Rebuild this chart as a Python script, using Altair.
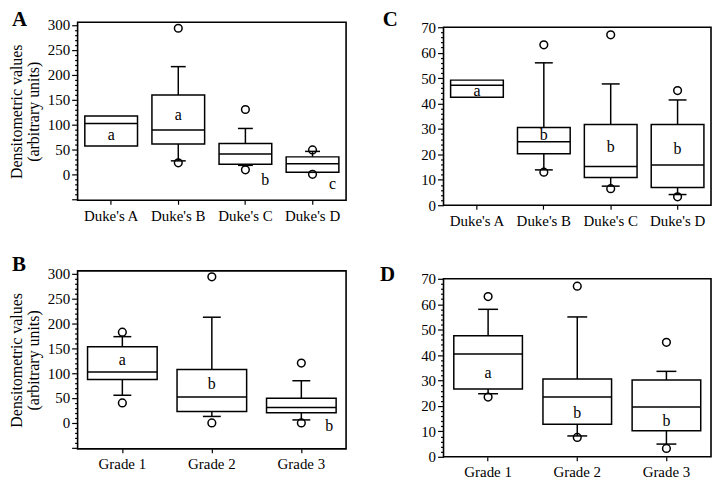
import altair as alt
import pandas as pd

# ---------------- data ----------------
duke_cats = ["Duke's A", "Duke's B", "Duke's C", "Duke's D"]
grade_cats = ["Grade 1", "Grade 2", "Grade 3"]

# Panel A (densitometric values by Duke's stage)
a_q1 = [57, 61, 20, 4]
a_med = [102, 89, 41, 21]
a_q3 = [117, 159, 62, 35]
a_lo = [None, 27, 18, 4]
a_hi = [None, 216, 92, 46]
a_out_cat = ["Duke's B", "Duke's B", "Duke's C", "Duke's C", "Duke's D", "Duke's D"]
a_out_val = [293, 23, 130, 9, 49, 0]
a_lab_cat = ["Duke's A", "Duke's B", "Duke's C", "Duke's D"]
a_lab_val = [78, 118, -11, -20]
a_lab_txt = ["a", "a", "b", "c"]
a_lab_shift = [False, False, True, True]

# Panel B (densitometric values by grade)
b_q1 = [87, 23, 20.5]
b_med = [102, 52, 31]
b_q3 = [153, 107, 49.6]
b_lo = [55.5, 13, 6]
b_hi = [173, 212, 84.6]
b_out_cat = ["Grade 1", "Grade 1", "Grade 2", "Grade 2", "Grade 3", "Grade 3"]
b_out_val = [182, 40, 293, 0, 120, 0]
b_lab_cat = ["Grade 1", "Grade 2", "Grade 3"]
b_lab_val = [127, 77, -7]
b_lab_txt = ["a", "b", "b"]
b_lab_shift = [False, False, True]

# Panel C (by Duke's stage)
c_q1 = [42.5, 20.2, 10.9, 7.0]
c_med = [47.2, 25.0, 15.2, 15.8]
c_q3 = [49.2, 30.6, 31.7, 31.7]
c_lo = [None, 13.9, 7.5, 4.2]
c_hi = [None, 56.0, 47.7, 41.4]
c_out_cat = ["Duke's B", "Duke's B", "Duke's C", "Duke's C", "Duke's D", "Duke's D"]
c_out_val = [63.1, 13.0, 67.0, 6.5, 45.1, 3.3]
c_lab_cat = ["Duke's A", "Duke's B", "Duke's C", "Duke's D"]
c_lab_val = [44.9, 27.6, 23, 22]
c_lab_txt = ["a", "b", "b", "b"]
c_lab_shift = [False, False, False, False]

# Panel D (by grade)
d_q1 = [26.7, 12.8, 10.2]
d_med = [40.4, 23.5, 19.6]
d_q3 = [47.6, 30.6, 30.2]
d_lo = [24.8, 8.2, 5.0]
d_hi = [58, 55, 33.6]
d_out_cat = ["Grade 1", "Grade 1", "Grade 2", "Grade 2", "Grade 3", "Grade 3"]
d_out_val = [63, 23.5, 67.1, 7.6, 45, 3.3]
d_lab_cat = ["Grade 1", "Grade 2", "Grade 3"]
d_lab_val = [32.9, 17.2, 14]
d_lab_txt = ["a", "b", "b"]
d_lab_shift = [False, False, False]

YTITLE = ["Densitometric values", "(arbitrary units)"]
FONT = "Liberation Serif"
LW = 1.5


def panel(cats, q1, med, q3, lo, hi, out_cat, out_val, lab_cat, lab_val, lab_txt,
          lab_shift, shift_dx, dom, tick_vals, major, width, height, top_off, box_w, cap_w,
          letter, letter_x, letter_y, ytitle):
    box = pd.DataFrame({"cat": cats, "q1": q1, "med": med, "q3": q3, "lo": lo, "hi": hi})
    outs = pd.DataFrame({"cat": out_cat, "v": out_val})
    labs = pd.DataFrame({"cat": lab_cat, "v": lab_val, "t": lab_txt, "s": lab_shift})

    xaxis = alt.Axis(title=None, labelAngle=0, labelFont=FONT, labelFontSize=15,
                     labelColor="black", tickColor="black", tickSize=4, tickWidth=1.2,
                     labelPadding=4, domain=False, grid=False)
    x = alt.X("cat:N", sort=cats,
              scale=alt.Scale(domain=cats, paddingInner=0, paddingOuter=0),
              axis=xaxis)
    ax_kwargs = dict(
        values=tick_vals,
        labelExpr=f"(datum.value % {major} === 0 && datum.value >= 0) ? datum.label : ''",
        tickSize={"condition": {"test": f"datum.value % {major} === 0", "value": 6}, "value": 3},
        labelFont=FONT, labelFontSize=15, labelColor="black", tickColor="black",
        tickWidth=1.2, labelPadding=2, domain=False, grid=False,
    )
    if ytitle is not None:
        yaxis = alt.Axis(title=ytitle, titleFont=FONT, titleFontSize=16,
                         titleFontWeight="normal", titleColor="black",
                         titlePadding=6, titleLineHeight=17, **ax_kwargs)
    else:
        yaxis = alt.Axis(title=None, **ax_kwargs)
    total_h = height + top_off
    yscale = alt.Scale(domain=dom, nice=False, zero=False, range=[total_h, top_off])

    def Y(f):
        return alt.Y(f"{f}:Q", scale=yscale, axis=yaxis)

    base = alt.Chart(box).encode(x=x)
    wh = base.transform_filter("isValid(datum.hi)")
    up = wh.mark_rule(color="black", strokeWidth=LW).encode(y=Y("q3"), y2="hi:Q")
    dn = wh.mark_rule(color="black", strokeWidth=LW).encode(y=Y("lo"), y2="q1:Q")
    cap_hi = wh.mark_tick(color="black", size=cap_w, thickness=LW, opacity=1).encode(y=Y("hi"))
    cap_lo = wh.mark_tick(color="black", size=cap_w, thickness=LW, opacity=1).encode(y=Y("lo"))
    bars = base.mark_bar(fill="white", stroke="black", strokeWidth=LW, size=box_w,
                         opacity=1).encode(y=Y("q1"), y2="q3:Q")
    meds = base.mark_tick(color="black", size=box_w, thickness=LW, opacity=1).encode(y=Y("med"))
    pts = alt.Chart(outs).mark_point(shape="circle", filled=False, color="black",
                                     strokeWidth=1.5, size=60, opacity=1).encode(
        x=x, y=Y("v"))
    lab_c = alt.Chart(labs).transform_filter("!datum.s").mark_text(
        font=FONT, fontSize=16, color="black", baseline="middle").encode(
        x=x, y=Y("v"), text="t:N")
    lab_s = alt.Chart(labs).transform_filter("datum.s").mark_text(
        font=FONT, fontSize=16, color="black", baseline="middle", dx=shift_dx).encode(
        x=x, y=Y("v"), text="t:N")
    frame = alt.Chart(pd.DataFrame({"f": [0]})).mark_rect(
        fillOpacity=0, stroke="black", strokeWidth=1.6).encode(
        x=alt.value(0), x2=alt.value(width), y=alt.value(top_off), y2=alt.value(total_h))
    let = alt.Chart(pd.DataFrame({"t": [letter]})).mark_text(
        font=FONT, fontSize=21, fontWeight="bold", color="black", align="left",
        baseline="alphabetic").encode(
        x=alt.value(letter_x), y=alt.value(letter_y), text="t:N")
    return alt.layer(up, dn, cap_hi, cap_lo, bars, meds, pts, lab_c, lab_s, frame, let
                     ).properties(width=width, height=total_h)


ticks300 = list(range(-50, 301, 10))
ticks70 = list(range(0, 71, 2))

pA = panel(duke_cats, a_q1, a_med, a_q3, a_lo, a_hi, a_out_cat, a_out_val,
           a_lab_cat, a_lab_val, a_lab_txt, a_lab_shift, 20, [-52, 305], ticks300, 50,
           270, 179, 0, 53, 15, "A", -66, 4, YTITLE)
pB = panel(grade_cats, b_q1, b_med, b_q3, b_lo, b_hi, b_out_cat, b_out_val,
           b_lab_cat, b_lab_val, b_lab_txt, b_lab_shift, 28, [-52, 305], ticks300, 50,
           270, 179, 0, 70, 18, "B", -66, 0, YTITLE)
pC = panel(duke_cats, c_q1, c_med, c_q3, c_lo, c_hi, c_out_cat, c_out_val,
           c_lab_cat, c_lab_val, c_lab_txt, c_lab_shift, 0, [0, 70], ticks70, 10,
           269, 179, 5, 53, 18, "C", -61, 4, None)
pD = panel(grade_cats, d_q1, d_med, d_q3, d_lo, d_hi, d_out_cat, d_out_val,
           d_lab_cat, d_lab_val, d_lab_txt, d_lab_shift, 0, [0, 70], ticks70, 10,
           269, 179, 0, 69, 20, "D", -64, 2, None)

left = alt.vconcat(pA, pB, spacing=31)
right = alt.vconcat(pC, pD, spacing=36)
chart = alt.hconcat(left, right, spacing=33).properties(
    padding=0, background="white"
).configure_view(strokeWidth=0)

chart.save("out.html", embed_options={"renderer": "svg", "actions": False})
